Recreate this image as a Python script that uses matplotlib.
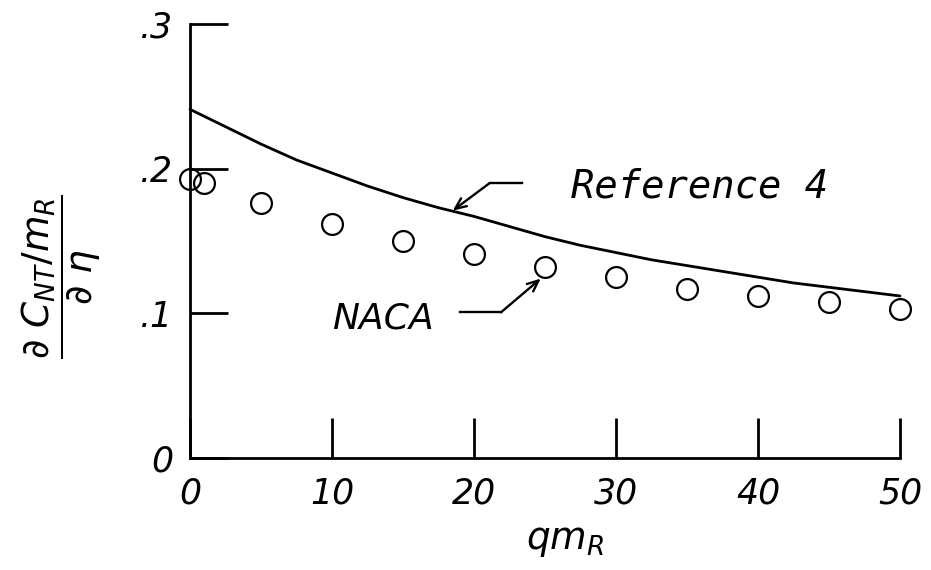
import matplotlib.pyplot as plt

# Reference 4 theory curve
ref4_q = [0, 2.5, 5, 7.5, 10, 12.5, 15, 17.5, 20, 22.5, 25,
          27.5, 30, 32.5, 35, 37.5, 40, 42.5, 45, 47.5, 50]
ref4_val = [0.241, 0.229, 0.217, 0.206, 0.197, 0.188, 0.180, 0.173, 0.167, 0.160, 0.153,
            0.147, 0.142, 0.137, 0.133, 0.129, 0.125, 0.121, 0.118, 0.115, 0.112]

# NACA test points
naca_q = [0, 1, 5, 10, 15, 20, 25, 30, 35, 40, 45, 50]
naca_val = [0.193, 0.190, 0.176, 0.162, 0.150, 0.141, 0.132, 0.125, 0.117, 0.112, 0.108, 0.103]

x_ticks = [0, 10, 20, 30, 40, 50]
x_tick_labels = ["0", "10", "20", "30", "40", "50"]
y_ticks = [0, 0.1, 0.2, 0.3]
y_tick_labels = ["0", ".1", ".2", ".3"]

fig = plt.figure(figsize=(9.31, 5.70), dpi=100)
ax = fig.add_axes([0.2041, 0.1965, 0.7626, 0.7614])

ax.plot(ref4_q, ref4_val, color="black", lw=2.0, solid_capstyle="round", clip_on=False)
ax.plot(naca_q, naca_val, "o", ms=15, mfc="none", mec="black", mew=1.6, clip_on=False)

ax.set_xlim(0, 50)
ax.set_ylim(0, 0.3)
for side in ["top", "right"]:
    ax.spines[side].set_visible(False)
for side in ["left", "bottom"]:
    ax.spines[side].set_linewidth(2.0)

ax.set_xticks(x_ticks)
ax.set_xticklabels(x_tick_labels, fontsize=25, style="italic")
ax.set_yticks(y_ticks)
ax.set_yticklabels(y_tick_labels, fontsize=25, style="italic")
ax.tick_params(axis="x", direction="in", length=29, width=2.0, pad=13)
ax.tick_params(axis="y", direction="in", length=27, width=2.0, pad=12)

ax.set_xlabel(r"$q m_R$", fontsize=27)
ax.xaxis.set_label_coords(0.528, -0.15)
fig.text(0.066, 0.515, r"$\dfrac{\partial\ C_{NT}/m_R}{\partial\ \eta}$",
         fontsize=27, rotation=90, ha="center", va="center")

arrow_style = dict(arrowstyle="->,head_length=0.8,head_width=0.35",
                   color="black", lw=1.7, shrinkA=0, shrinkB=0)

# Reference 4 callout
ax.text(26.8, 0.188, "Reference 4", fontsize=28, style="italic",
        family="DejaVu Sans Mono", va="center", ha="left")
ax.plot([21.1, 23.4], [0.190, 0.190], color="black", lw=1.7)
ax.annotate("", xy=(18.5, 0.171), xytext=(21.1, 0.190), arrowprops=arrow_style)

# NACA callout
ax.text(10.0, 0.0966, "NACA", fontsize=26, style="italic", va="center", ha="left")
ax.plot([19.0, 21.9], [0.1007, 0.1007], color="black", lw=1.7)
ax.annotate("", xy=(24.7, 0.124), xytext=(21.9, 0.1007), arrowprops=arrow_style)

fig.savefig("out.png", dpi=100)
